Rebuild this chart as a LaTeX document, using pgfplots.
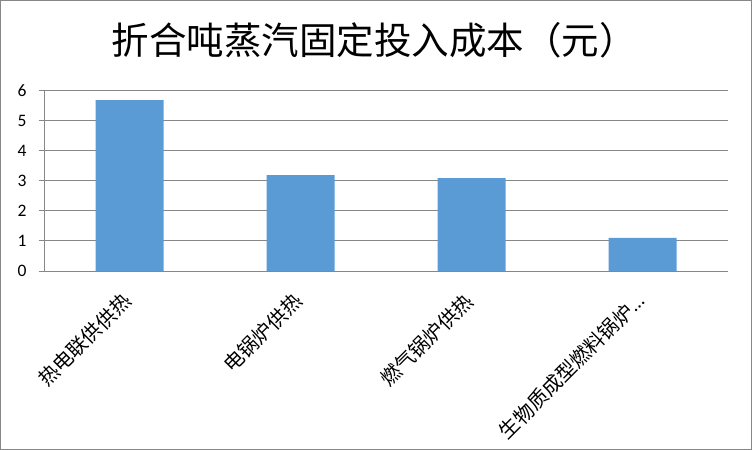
\documentclass[border=0pt]{standalone}
\usepackage{fontspec}
\setmainfont{Carlito}
\newfontfamily\cjk{Noto Sans CJK SC}
\usepackage{pgfplots}
\pgfplotsset{compat=1.18}
\definecolor{barblue}{HTML}{5B9BD5}
\definecolor{gridgray}{HTML}{878787}
\begin{document}
\begin{tikzpicture}
\useasboundingbox (-44bp,-179bp) rectangle (708bp,271bp);
\draw[gridgray, line width=0.8bp] (-43.5bp,-178.5bp) rectangle (707.5bp,270.5bp);
\node[font=\cjk\fontsize{37.5bp}{40bp}\selectfont, anchor=center] at (330bp,231bp) {折合吨蒸汽固定投入成本（元）};
\begin{axis}[
  at={(0,0)}, anchor=south west,
  scale only axis,
  width=684bp, height=180.5bp,
  xmin=-0.5, xmax=3.5,
  ymin=0, ymax=6,
  ytick={0,1,2,3,4,5,6},
  xtick={0,1,2,3},
  xticklabels={热电联供供热,电锅炉供热,燃气锅炉供热,生物质成型燃料锅炉{\rmfamily\kern0.5pt…}},
  ybar, bar width=68bp,
  axis x line*=bottom,
  axis y line*=left,
  ymajorgrids,
  grid style={gridgray, line width=0.9bp},
  axis line style={gridgray, line width=0.9bp},
  tick style={gridgray, line width=0.9bp},
  tick align=outside,
  major tick length=5bp,
  x tick style={draw=none},
  extra x ticks={-0.5,0.5,1.5,2.5,3.5},
  extra x tick labels={},
  extra x tick style={grid=none, tick style={draw=gridgray, line width=0.9bp}, major tick length=6bp},
  xticklabel style={font=\cjk\fontsize{20bp}{22bp}\selectfont, xshift=0bp, yshift=-19bp, rotate=45, anchor=east},
  yticklabel style={font=\fontsize{17.5bp}{20bp}\selectfont, xshift=-9bp},
  /pgf/number format/assume math mode=true,
  clip=false,
]
\addplot[fill=barblue, draw=none] coordinates {(0,5.68) (1,3.19) (2,3.09) (3,1.1)};
\end{axis}
\end{tikzpicture}
\end{document}
